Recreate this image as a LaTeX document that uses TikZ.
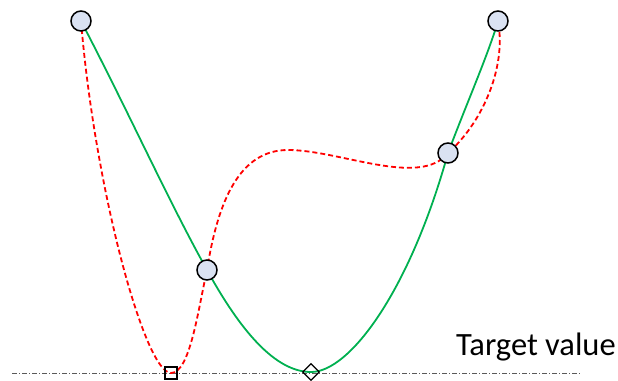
\documentclass[tikz,border=0pt]{standalone}
\usepackage{fontspec}
\setmainfont{Carlito}
\usetikzlibrary{shapes.geometric}
\definecolor{ptfill}{RGB}{218,226,242}
\definecolor{fitgreen}{RGB}{0,176,80}
\begin{document}
\begin{tikzpicture}[
        x=1pt, y=-1pt,
        sample/.style={draw, circle, fill=ptfill, line width=1.5pt, minimum size=20pt, inner sep=0pt},
        optsq/.style={draw, rectangle, line width=1.2pt, minimum size=12pt, inner sep=0pt},
        optdia/.style={draw, diamond, line width=1.2pt, minimum size=17pt, inner sep=0pt},
        goodfit/.style={fitgreen, line width=1.8pt},
        overfit/.style={red, line width=1.8pt, dash pattern=on 5pt off 3pt}
    ]
        \useasboundingbox (0,0) rectangle (618,380);

        % target level
        \draw[gray!70!black, line width=0.7pt, dash pattern=on 5pt off 2pt on 1pt off 2pt] (12,373) -- (580,373);

        \coordinate (A) at (81,21);
        \coordinate (B) at (207,270);
        \coordinate (C) at (448,153);
        \coordinate (D) at (498,21);
        \coordinate (sqmin) at (171,373);
        \coordinate (diamin) at (311,372);

        % curves
        \draw[goodfit] (A) .. controls (130,115) and (168,200) .. (B)
            .. controls (240,330) and (275,372) .. (diamin)
            .. controls (350,372) and (410,290) .. (C)
            .. controls (468,100) and (488,55) .. (D);
        \draw[overfit] (A) .. controls (95,190) and (145,373) .. (sqmin)
            .. controls (190,373) and (198,310) .. (B)
            .. controls (218,200) and (240,150) .. (288,150)
            .. controls (340,150) and (420,188) .. (C)
            .. controls (480,125) and (507,70) .. (D);

        \node[optsq] (sq) at (sqmin) {};
        \node[optdia] (dia) at (diamin) {};

        \node[sample] (p1) at (A) {};
        \node[sample] (p2) at (B) {};
        \node[sample] (p3) at (C) {};
        \node[sample] (p4) at (D) {};

        \node[anchor=base west, inner sep=0pt, font=\fontsize{32.5}{38}\selectfont] (target) at (456,355) {Target value};
    \end{tikzpicture}
\end{document}
